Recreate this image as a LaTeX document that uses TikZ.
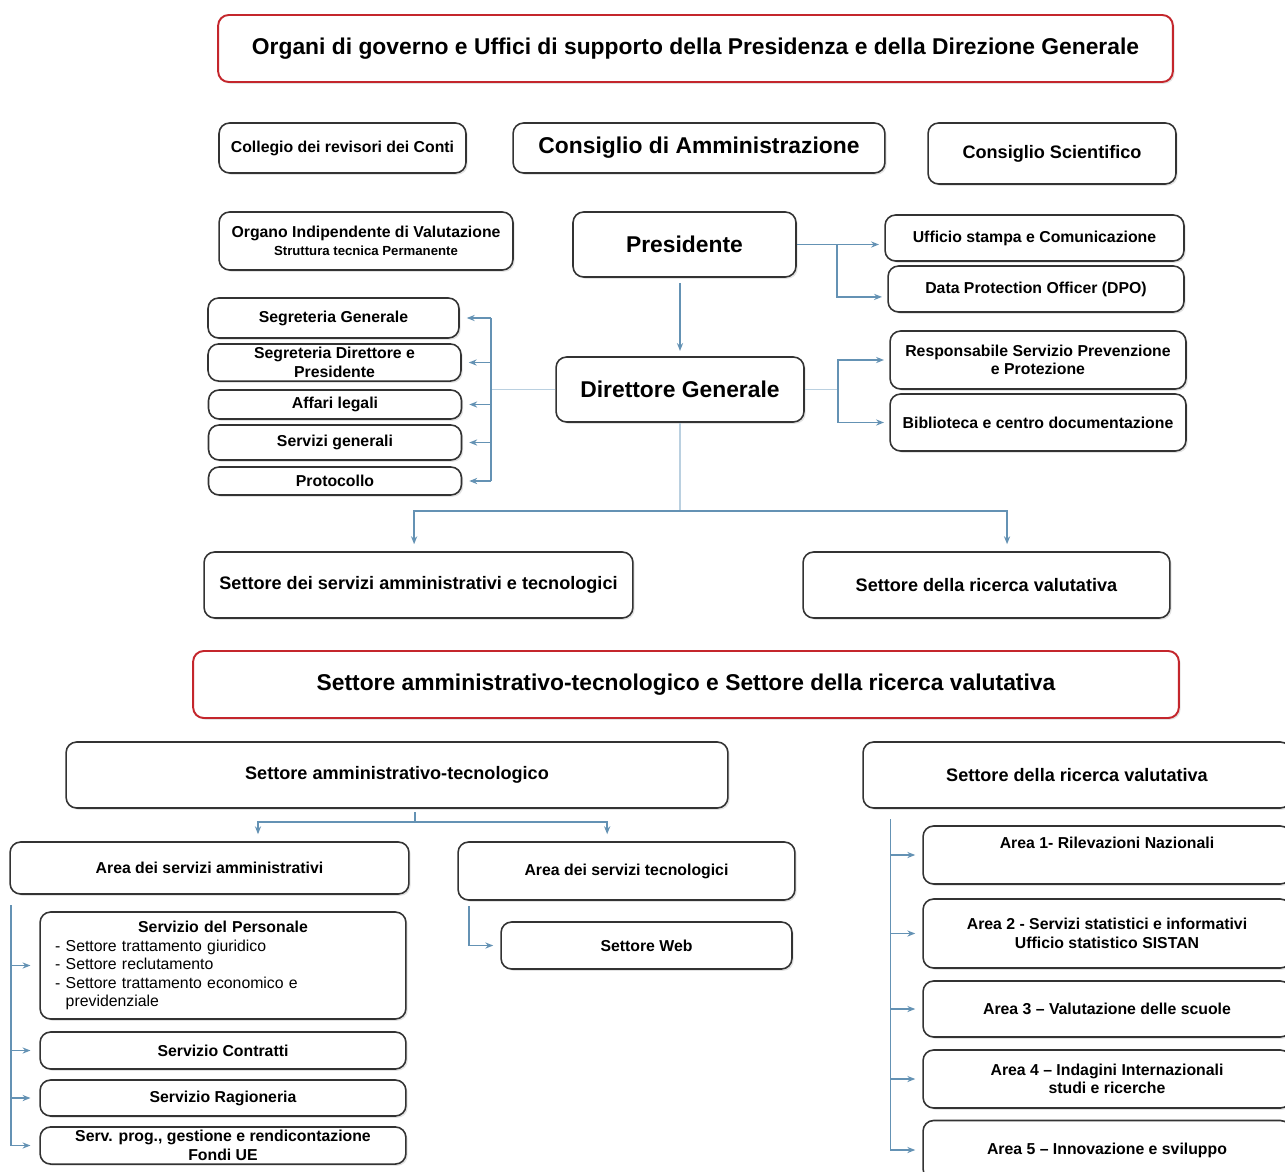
\documentclass[tikz,border=0pt]{standalone}
\usepackage{fontspec}
\setmainfont{Liberation Sans}
\usetikzlibrary{arrows.meta, shadows}

\definecolor{linkblue}{RGB}{100,146,180}
\definecolor{linklight}{RGB}{186,208,224}
\definecolor{titlered}{RGB}{196,38,44}

\begin{document}
\begin{tikzpicture}[
    x=0.02cm, y=-0.02cm,
    >={Stealth[length=4.5pt, width=3.5pt]},
    % Node styles
    orgbox/.style={
        rectangle, rounded corners=6pt,
        draw=black!80, line width=0.9pt, fill=white,
        align=center, inner sep=2pt,
        font=\bfseries\fontsize{9}{10.5}\selectfont,
        drop shadow={opacity=0.22, shadow xshift=1pt, shadow yshift=-1pt}
    },
    titlebox/.style={
        orgbox, draw=titlered, line width=1.1pt,
        font=\bfseries\fontsize{13}{15}\selectfont
    },
    bigbox/.style={
        orgbox, font=\bfseries\fontsize{13}{15}\selectfont
    },
    sectorbox/.style={
        orgbox, font=\bfseries\fontsize{10.3}{12}\selectfont
    },
    boxdim/.style 2 args={minimum width=#1*0.569pt, minimum height=#2*0.569pt},
    link/.style={draw=linkblue, line width=0.8pt},
    faint/.style={draw=linklight, line width=0.7pt},
]

\path[use as bounding box, fill=white] (0,0) rectangle (1285,1171);

%% ---- TITLE 1 ----
\node[titlebox, boxdim={955}{67}] (govtitle) at (695.5,48.5)
    {Organi di governo e Uffici di supporto della Presidenza e della Direzione Generale};

%% ---- GOVERNING BODIES ----
\node[orgbox, boxdim={247}{50}] (revisori) at (342.5,148) {Collegio dei revisori dei Conti};
\node[bigbox, boxdim={372}{50}] (cda) at (699,148) {Consiglio di Amministrazione};
\node[sectorbox, boxdim={248}{61}] (scientifico) at (1052,153.5) {Consiglio Scientifico};

\node[orgbox, boxdim={294}{58}] (oiv) at (366,241)
    {Organo Indipendente di Valutazione\\{\fontsize{7.5}{9}\selectfont Struttura tecnica Permanente}};
\node[bigbox, boxdim={223}{65}] (presidente) at (684.5,244.5) {Presidente};
\node[bigbox, boxdim={248}{65}] (direttore) at (680,389.5) {Direttore Generale};

%% ---- STAFF OFFICES (right) ----
\node[orgbox, boxdim={299}{46}] (stampa) at (1034.5,238) {Ufficio stampa e Comunicazione};
\node[orgbox, boxdim={296}{46}] (dpo) at (1036,289) {Data Protection Officer (DPO)};
\node[orgbox, boxdim={296}{58}] (rspp) at (1038,360) {Responsabile Servizio Prevenzione\\e Protezione};
\node[orgbox, boxdim={296}{57}] (biblio) at (1038,422.5) {Biblioteca e centro documentazione};

%% ---- STAFF OFFICES (left) ----
\node[orgbox, boxdim={251}{40}] (seggen) at (333.5,318) {Segreteria Generale};
\node[orgbox, boxdim={253}{37}] (segdir) at (334.5,362.5) {Segreteria Direttore e\\Presidente};
\node[orgbox, boxdim={253}{29}] (legali) at (335,404.5) {Affari legali};
\node[orgbox, boxdim={253}{35}] (servgen) at (335,442.5) {Servizi generali};
\node[orgbox, boxdim={253}{28}] (protocollo) at (335,481) {Protocollo};

%% ---- SECTORS ----
\node[sectorbox, boxdim={429}{66}] (setamm) at (418.5,585) {Settore dei servizi amministrativi e tecnologici};
\node[sectorbox, boxdim={367}{66}] (setric) at (986.5,585) {Settore della ricerca valutativa};

%% ---- TITLE 2 ----
\node[titlebox, boxdim={986}{67}] (settitle) at (686,684.5)
    {Settore amministrativo-tecnologico e Settore della ricerca valutativa};

%% ---- SETTORE AMMINISTRATIVO-TECNOLOGICO ----
\node[sectorbox, boxdim={662}{66}] (amtec) at (397,775) {Settore amministrativo-tecnologico};
\node[orgbox, boxdim={399}{52}] (areaamm) at (209.5,868) {Area dei servizi amministrativi};
\node[orgbox, boxdim={337}{58}] (areatec) at (626.5,871) {Area dei servizi tecnologici};
\node[orgbox, boxdim={291}{47}] (web) at (646.5,945.5) {Settore Web};

\node[orgbox, boxdim={366}{107}, align=left, text width=191pt, inner xsep=8.5pt] (personale) at (223,965.5)
    {\makebox[\linewidth][c]{Servizio del Personale}\\
     \mdseries - Settore trattamento giuridico\\
     \mdseries - Settore reclutamento\\
     \mdseries - Settore trattamento economico e\\
     \mdseries\phantom{- }previdenziale};
\node[orgbox, boxdim={366}{37}] (contratti) at (223,1050.5) {Servizio Contratti};
\node[orgbox, boxdim={366}{36}] (ragioneria) at (223,1098) {Servizio Ragioneria};
\node[orgbox, boxdim={366}{37}] (fondi) at (223,1145.5) {Serv. prog., gestione e rendicontazione\\Fondi UE};

%% ---- SETTORE DELLA RICERCA VALUTATIVA ----
\node[sectorbox, boxdim={428}{66}] (ricerca) at (1077,775) {Settore della ricerca valutativa};
\node[orgbox, boxdim={368}{58}] (area1) at (1107,855) {Area 1- Rilevazioni Nazionali\\\strut};
\node[orgbox, boxdim={368}{69}] (area2) at (1107,933.5) {Area 2 - Servizi statistici e informativi\\Ufficio statistico SISTAN};
\node[orgbox, boxdim={368}{56}] (area3) at (1107,1009) {Area 3 -- Valutazione delle scuole};
\node[orgbox, boxdim={368}{58}] (area4) at (1107,1079) {Area 4 -- Indagini Internazionali\\studi e ricerche};
\node[orgbox, boxdim={368}{59}] (area5) at (1107,1150) {Area 5 -- Innovazione e sviluppo};

%% ---- ARROWS ----
% Presidente -> Direttore Generale
\draw[link, ->, shorten <=3pt, shorten >=3pt] (presidente.south -| direttore.north) -- (direttore.north);

% Presidente -> Ufficio stampa, DPO
\coordinate (pjoin) at (837,244.5);
\draw[link] (presidente.east) -- (pjoin);
\draw[link, ->, shorten >=3pt] (pjoin) -- (pjoin -| stampa.west);
\draw[link, ->, shorten >=3pt] (pjoin) |- ([yshift=-4.5pt]dpo.west);

% Direttore -> RSPP, Biblioteca
\coordinate (djoin) at (838,389.5);
\draw[faint] (direttore.east) -- (djoin);
\draw[link, ->, shorten >=3pt] (djoin) |- (rspp.west);
\draw[link, ->, shorten >=3pt] (djoin) |- (biblio.west);

% Direttore -> segreterie and uffici (left)
\coordinate (lbus) at (491,389.5);
\draw[faint] (direttore.west) -- (lbus);
\draw[link] (lbus |- seggen.east) -- (lbus |- protocollo.east);
\draw[link, ->, shorten >=4pt] (lbus |- seggen.east) -- (seggen.east);
\draw[link, ->, shorten >=4pt] (lbus |- segdir.east) -- (segdir.east);
\draw[link, ->, shorten >=4pt] (lbus |- legali.east) -- (legali.east);
\draw[link, ->, shorten >=4pt] (lbus |- servgen.east) -- (servgen.east);
\draw[link, ->, shorten >=4pt] (lbus |- protocollo.east) -- (protocollo.east);

% Direttore -> Settori
\coordinate (dsplit) at (680,511);
\draw[faint] (direttore.south) -- (dsplit);
\draw[link, ->, shorten >=4pt] (dsplit) -| ([xshift=-2.5pt]setamm.north);
\draw[link, ->, shorten >=4pt] (dsplit) -| ([xshift=11.7pt]setric.north);

% Settore amministrativo-tecnologico -> Aree
\coordinate (asplit) at (415,822);
\draw[link, shorten <=2pt] (amtec.south -| asplit) -- (asplit);
\draw[link, ->, shorten >=4pt] (asplit) -| ([xshift=27.6pt]areaamm.north);
\draw[link, ->, shorten >=4pt] (asplit) -| ([xshift=-11pt]areatec.north);

% Area tecnologica -> Settore Web
\draw[link, ->, shorten <=3pt, shorten >=4pt] ([xshift=-89.6pt]areatec.south) |- (web.west);

% Area amministrativa -> Servizi
\coordinate (abus) at ([xshift=1pt, yshift=-6pt]areaamm.south west);
\draw[link, ->, shorten >=5pt] (abus) |- (fondi.west);
\draw[link, ->, shorten >=5pt] (abus |- personale.west) -- (personale.west);
\draw[link, ->, shorten >=5pt] (abus |- contratti.west) -- (contratti.west);
\draw[link, ->, shorten >=5pt] (abus |- ragioneria.west) -- (ragioneria.west);

% Settore ricerca -> Aree 1-5
\coordinate (rbus) at ([xshift=16pt, yshift=-6pt]ricerca.south west);
\draw[link, ->, shorten >=4pt] (rbus) |- (area5.west);
\draw[link, ->, shorten >=4pt] (rbus |- area1.west) -- (area1.west);
\draw[link, ->, shorten >=4pt] (rbus |- area2.west) -- (area2.west);
\draw[link, ->, shorten >=4pt] (rbus |- area3.west) -- (area3.west);
\draw[link, ->, shorten >=4pt] (rbus |- area4.west) -- (area4.west);

\end{tikzpicture}
\end{document}
